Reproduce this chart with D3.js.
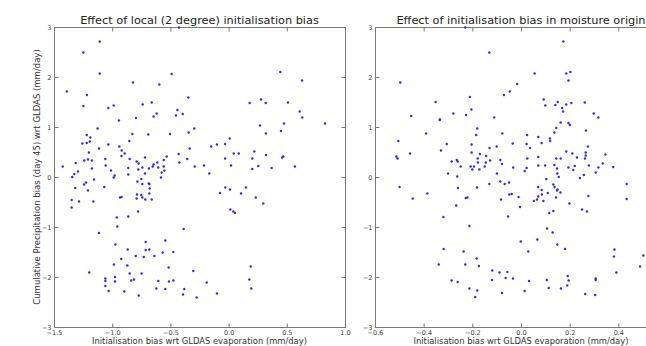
<!DOCTYPE html>
<html>
<head>
<meta charset="utf-8">
<script src="https://cdn.jsdelivr.net/npm/d3@7"></script>
<style>
  body { margin: 0; background: #fff; }
  svg { display: block; font-family: "DejaVu Sans", sans-serif; }
</style>
</head>
<body>
<div id="chart"></div>
<script>
// left panel: local (2 degree) initialisation bias
const localX = [-1.39, -1.248, -1.107, -1.107, -1.217, -1.248, -1.033, -0.987, -0.821, -0.738, -0.661, -0.595, -0.489, -0.426, -0.346, -0.44, -0.394, -0.452, -0.618, -0.644, -0.796, 0.181, 0.278, 0.319, 0.444, 0.631, 0.51, 0.611, 0.633,
  0.828, 0.27, 0.476, 0.321, 0.45, 0.47, 0.46, 0.321, 0.221, 0.204, 0.255, 0.204, 0.37, 0.57, 0.233, 0.298, 0.087, 0.044, 0.009, -0.03, -0.1, -0.149, -0.03, 0.021, -0.028, 0.012, 0.107, 0.149, -0.074, 0.015, 0.04, 0.055,
  -0.211, -0.166, -0.295, -0.343, -0.334, -0.355, -0.291, -0.429, -0.423, -0.503, -0.532, -0.557, -0.604, -0.557, -0.552, -0.575, -0.581, -0.613, -0.644, -0.652, -0.684, -0.718, -0.69, -0.741, -0.718, -0.773, -0.79, -0.776,
  -0.784, -0.75, -0.741, -0.686, -0.68, -0.678, -0.681, -0.661, -0.716, -0.741, -0.75, -0.787, -0.79, -0.778, -0.827, -0.853, -0.85, -0.862, -0.862, -0.862, -0.893, -0.918, -0.92, -0.939, -0.942, -0.933, -0.92, -0.979, -0.987,
  -1.01, -1.033, -1.059, -1.056, -1.068, -0.961, -0.956, -1.113, -1.125, -1.156, -1.162, -1.174, -1.174, -1.188, -1.193, -1.2, -1.208, -1.219, -1.219, -1.257, -1.24, -1.208, -1.242, -1.225, -1.314, -1.294, -1.325, -1.343,
  -1.317, -1.285, -1.348, -1.348, -1.425,
  -1.113, -0.386, -0.973, -0.712, -0.544, -0.867, -0.712, -0.681, -0.566, -0.475, -0.798, -0.729, -0.638, -0.922, -0.985, -0.87, -0.515, -0.303, -1.197, -0.85, -0.747, -1.059, -0.976, -0.976, -1.059, -0.813, -0.836, -0.604,
  -0.512, -0.475, -1.059, -1.03, -0.896, -0.772, -0.621, -0.544, -0.381, -0.392, -0.274, -0.1, -0.188, 0.178, 0.19, 0.195];
const localY = [1.71, 2.49, 2.71, 2.07, 1.64, 1.42, 1.38, 1.43, 1.89, 1.45, 1.49, 1.85, 2.06, 2.99, 1.59, 1.34, 1.26, 1.23, 1.27, 1.21, 1.18, 1.48, 1.55, 1.48, 2.1, 1.93, 1.49, 1.31, 1.19,
  1.07, 1.03, 1.07, 0.87, 0.92, 0.41, 0.39, 0.44, 0.51, 0.37, 0.22, 0.16, 0.18, 0.21, -0.41, -0.53, 0.47, 0.47, 0.77, 0.66, 0.65, 0.61, 0.37, 0.23, -0.21, -0.25, -0.33, -0.21, -0.32, -0.65, -0.69, -0.72,
  0.23, 0.07, 0.97, 0.89, 0.57, 0.36, 0.21, 0.46, 0.29, 0.86, 0.41, 0.34, 0.19, 0.21, 0.13, 0.09, -0.01, 0.29, 0.25, 0.21, 0.17, 0.39, 0.85, 0.19, 0.07, 0.27, 0.31, 0.15,
  -0.09, -0.04, -0.14, -0.13, -0.14, -0.23, -0.33, -0.45, -0.45, -0.41, -0.36, -0.35, -0.43, -0.69, 0.86, 0.72, 0.36, 0.18, 0.05, -0.79, 0.47, 0.53, 0.42, 0.61, 1.13, -0.41, -0.4, 0.03, -0.01,
  0.13, 0.65, 0.36, 0.23, -0.2, -0.81, -0.99, 0.57, 0.97, -0.05, -0.49, 0.33, 0.17, 0.79, 0.71, 0.49, 0.35, 0.84, 0.68, 0.67, 0.33, -0.27, -0.15, -0.11, 0.28, 0.11, 0.06, 0.0,
  -0.22, -0.49, -0.46, -0.61, 0.21,
  -1.12, -1.04, -1.35, -1.3, -1.27, -1.45, -1.46, -1.45, -1.51, -1.5, -1.58, -1.6, -1.58, -1.64, -1.75, -1.77, -1.81, -1.88, -1.91, -1.93, -1.93, -2.03, -2.0, -2.09, -2.08, -2.05, -2.07, -2.08,
  -2.09, -2.07, -2.18, -2.28, -2.29, -2.37, -2.23, -2.24, -2.24, -2.35, -2.41, -2.33, -2.11, -2.05, -1.79, -2.23];

// right panel: initialisation bias in moisture origin
const originX = [-0.496, -0.229, -0.13, 0.056, 0.174, 0.186, 0.203, 0.195, -0.016, -0.046, -0.07, -0.21, -0.351, -0.204, -0.278, -0.226, -0.451, -0.333, -0.11, 0.093, 0.1, 0.151, 0.141, 0.186, 0.207, 0.262, 0.169, 0.173, 0.299, 0.318,
  -0.504, -0.512, -0.507, -0.499, -0.456, -0.445, -0.39, -0.385, -0.334, -0.329, -0.305, -0.3, -0.285, -0.264, -0.26, -0.262, -0.259, -0.266, -0.248, -0.227, -0.22, -0.203, -0.203, -0.184, -0.18, -0.178, -0.177, -0.169,
  -0.207, -0.193, -0.2, -0.171, -0.181, -0.149, -0.145, -0.143, -0.129, -0.127, -0.13, -0.1, -0.099, -0.085, -0.085, -0.078, -0.077, -0.082, -0.067, -0.049, -0.053, -0.048, -0.038, -0.034, -0.032, -0.01, -0.004,
  0.015, 0.023, 0.023, 0.025, 0.026, 0.037, 0.053, 0.066, 0.071, 0.07, 0.071, 0.071, 0.071, 0.085, 0.085, 0.086, 0.092, 0.099, 0.104, 0.11, 0.116, 0.119, 0.12, 0.133, 0.133, 0.137, 0.137, 0.138, 0.145, 0.145, 0.148,
  0.149, 0.148, 0.15, 0.155, 0.144, 0.162, 0.163, 0.163, 0.186, 0.195, 0.201, 0.195, 0.199, 0.211, 0.215, 0.221, 0.23, 0.242, 0.251, 0.258, 0.263, 0.266, 0.266, 0.267, 0.271, 0.275, 0.277, 0.279, 0.307, 0.318, 0.336,
  0.347, 0.379, 0.434, 0.434, -0.212, -0.319, 0.107,
  0.13, -0.318, -0.236, -0.338, -0.229, -0.182, -0.173, -0.001, 0.03, 0.067, 0.149, 0.181, 0.384, 0.382, 0.503, 0.489, 0.392, -0.118, -0.088, -0.056, -0.063, -0.033, -0.119, -0.285, -0.26, 0.033, 0.106, 0.192,
  0.196, 0.19, 0.307, 0.307, -0.212, -0.18, -0.188, -0.078, 0.015, 0.114, 0.164, 0.264, 0.305];
const originY = [1.89, 2.99, 2.49, 2.07, 2.71, 2.07, 2.1, 1.93, 1.86, 1.71, 1.64, 1.6, 1.5, 1.35, 1.27, 1.24, 1.22, 1.15, 1.19, 1.55, 1.43, 1.5, 1.44, 1.45, 1.48, 1.49, 1.38, 1.31, 1.27, 1.19,
  0.72, 0.41, 0.37, -0.2, 0.47, -0.43, 0.87, -0.33, 1.14, 0.53, 0.66, 0.07, 0.31, 0.34, 0.31, 0.01, -0.22, -0.57, 0.21, -0.42, -0.41, 0.49, 0.65, 0.84, 0.97, 0.37, 0.29, 0.46,
  0.21, 0.21, 0.15, 0.15, -0.21, 0.21, 0.29, 0.42, 0.58, 0.33, -0.14, 0.61, 0.07, -0.09, 0.34, 0.26, 0.87, -0.45, -0.14, -0.11, -0.79, -0.35, -0.34, 0.67, 0.19, -0.4, -0.6,
  0.12, 0.18, 0.66, 0.84, 0.37, 0.58, -0.48, -0.45, -0.39, -0.2, 0.4, 0.23, 0.8, 0.68, -0.26, -0.35, -0.48, 0.23, -0.04, -0.32, -0.72, 0.77, 0.72, -0.68, -0.15, 0.89, 0.24, -0.2, 0.98, 0.37, 0.17,
  0.07, -0.27, -0.25, 0.0, -0.41, -0.31, 0.37, 1.09, 0.51, 1.08, 1.04, 0.19, -0.53, 0.47, 0.14, 0.22, 0.39, -0.02, -0.65, 0.04, 0.37, 0.49, 0.43, 0.93, -0.69, 0.61, -0.38, 0.23, 0.09, 0.19, 0.27,
  0.45, 0.2, -0.14, -0.44, -0.98, -0.8, -1.03,
  -1.11, -1.44, -1.49, -1.75, -1.75, -1.63, -1.78, -1.29, -1.49, -1.25, -1.35, -1.44, -1.45, -1.59, -1.57, -1.79, -1.91, -1.87, -1.91, -1.9, -2.02, -2.03, -2.06, -2.07, -2.1, -2.08, -2.06, -1.98,
  -2.07, -2.17, -2.03, -2.06, -2.23, -2.27, -2.4, -2.32, -2.28, -2.22, -2.23, -2.34, -2.36];

const yTicks = [-3, -2, -1, 0, 1, 2, 3];
const localTicks = [-1.5, -1.0, -0.5, 0.0, 0.5, 1.0];
const originTicks = [-0.6, -0.4, -0.2, 0.0, 0.2, 0.4];

const titles = ["Effect of local (2 degree) initialisation bias", "Effect of initialisation bias in moisture origin"];
const xTitle = "Initialisation bias wrt GLDAS evaporation (mm/day)";
const yTitle = "Cumulative Precipitation bias (day 45) wrt GLDAS (mm/day)";

const width = 646, height = 346;
const plotTop = 27, plotBottom = 327;

const svg = d3.select("#chart").append("svg")
  .attr("width", width)
  .attr("height", height);

const y = d3.scaleLinear([-3, 3], [plotBottom, plotTop]);

// right panel runs past the window edge, as in the picture
const panels = [
  {xs: localX, ys: localY, domain: [-1.5, 1.0], range: [54, 345], ticks: localTicks, title: titles[0]},
  {xs: originX, ys: originY, domain: [-0.6, 0.6], range: [375, 667], ticks: originTicks, title: titles[1]}
];

const fmt = d => d3.format(".1f")(d).replace("-", "\u2212");
const fmtY = d => String(d).replace("-", "\u2212");

panels.forEach(p => {
  const x = d3.scaleLinear(p.domain, p.range);
  const g = svg.append("g");
  const [x0, x1] = p.range;

  // frame
  g.append("rect")
    .attr("x", x0 + 0.5).attr("y", plotTop + 0.5)
    .attr("width", x1 - x0).attr("height", plotBottom - plotTop)
    .attr("fill", "none").attr("stroke", "#7a7a7a").attr("stroke-width", 1);

  // inward ticks on all sides
  const axB = g.append("g").attr("transform", `translate(0,${plotBottom + 0.5})`)
    .call(d3.axisBottom(x).tickValues(p.ticks).tickSizeInner(-4).tickSizeOuter(0).tickPadding(3).tickFormat(fmt));
  const axT = g.append("g").attr("transform", `translate(0,${plotTop + 0.5})`)
    .call(d3.axisTop(x).tickValues(p.ticks).tickSizeInner(-4).tickSizeOuter(0).tickFormat(""));
  const axL = g.append("g").attr("transform", `translate(${x0 + 0.5},0)`)
    .call(d3.axisLeft(y).tickValues(yTicks).tickSizeInner(-4).tickSizeOuter(0).tickPadding(3).tickFormat(fmtY));
  const axR = g.append("g").attr("transform", `translate(${x1 + 0.5},0)`)
    .call(d3.axisRight(y).tickValues(yTicks).tickSizeInner(-4).tickSizeOuter(0).tickFormat(""));

  [axB, axT, axL, axR].forEach(a => {
    a.select(".domain").remove();
    a.selectAll(".tick line").attr("stroke", "#7a7a7a");
    a.selectAll("text").attr("fill", "#444").attr("font-size", 6.5).attr("font-family", "DejaVu Sans");
  });

  // points
  g.append("g")
    .selectAll("circle")
    .data(d3.range(p.xs.length))
    .join("circle")
    .attr("cx", i => x(p.xs[i]))
    .attr("cy", i => y(p.ys[i]))
    .attr("r", 1.2)
    .attr("fill", "#2a2aff");

  // titles
  g.append("text")
    .attr("x", (x0 + x1) / 2).attr("y", 24)
    .attr("text-anchor", "middle")
    .attr("font-size", 11.3)
    .attr("fill", "#222")
    .text(p.title);

  g.append("text")
    .attr("x", (x0 + x1) / 2).attr("y", 343.5)
    .attr("text-anchor", "middle")
    .attr("font-size", 8.4)
    .attr("fill", "#333")
    .text(xTitle);
});

svg.append("text")
  .attr("transform", `translate(40,${(plotTop + plotBottom) / 2}) rotate(-90)`)
  .attr("text-anchor", "middle")
  .attr("font-size", 8.5)
  .attr("fill", "#333")
  .text(yTitle);
</script>
</body>
</html>
